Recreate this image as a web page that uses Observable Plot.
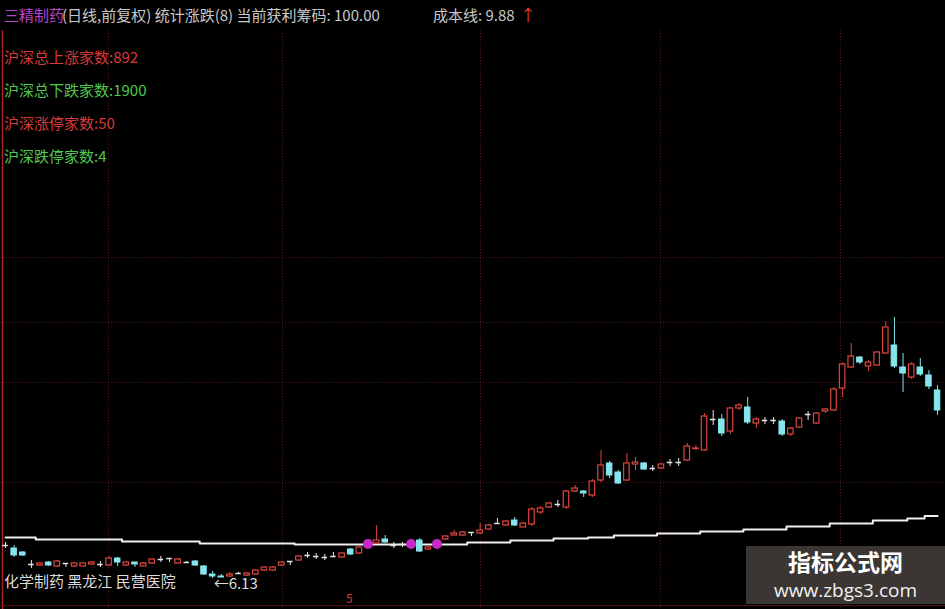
<!DOCTYPE html>
<html><head><meta charset="utf-8">
<script src="https://cdn.jsdelivr.net/npm/d3@7"></script>
<script src="https://cdn.jsdelivr.net/npm/@observablehq/plot@0.6"></script>
<style>
html,body{margin:0;padding:0;background:#000;}
#wrap{position:relative;width:945px;height:609px;overflow:hidden;background:#000;font-family:"Noto Sans CJK SC","Noto Sans",sans-serif;}
#wrap svg{position:absolute;left:0;top:0;}
.t{position:absolute;white-space:nowrap;font-size:14px;line-height:1;}
</style></head><body>
<div id="wrap"></div>
<script>
// ---- data (daily candles, price) ----
const open = [8.11,7.93,7.69,6.97,6.91,7.09,6.85,7.03,6.85,6.85,
6.97,6.97,6.91,7.33,6.91,7.09,6.85,7.03,7.27,7.33,
7.03,7.09,7.15,6.85,6.37,6.25,6.25,6.43,6.31,6.37,
6.61,6.61,6.91,7.15,7.21,7.51,7.45,7.39,7.45,7.39,
7.87,7.63,8.05,8.23,8.47,8.11,8.17,8.11,8.41,7.87,
8.05,8.47,8.71,8.71,8.89,8.83,9.07,9.43,9.31,9.61,
9.19,9.37,10.09,10.39,10.57,10.39,11.35,11.35,11.11,12.01,
13.03,12.49,12.01,12.97,13.03,12.73,12.73,13.09,13.09,13.21,
13.90,13.81,15.67,15.67,14.95,16.33,16.39,15.43,15.61,15.61,
15.55,14.77,15.19,15.97,15.43,16.15,16.21,17.53,18.79,19.39,
18.85,18.91,19.63,20.11,18.79,18.19,18.79,18.31,17.41];
const close = [8.11,7.51,7.51,6.97,7.03,6.91,7.15,7.03,7.03,7.03,
7.09,6.97,7.33,7.09,7.09,6.97,7.03,7.27,7.27,7.33,
7.27,7.09,6.91,6.37,6.25,6.19,6.37,6.43,6.43,6.61,
6.79,6.79,7.09,7.15,7.45,7.51,7.45,7.39,7.45,7.63,
7.57,7.99,8.35,8.41,8.29,8.11,8.17,8.35,7.75,7.99,
8.35,8.65,8.83,8.89,8.89,9.01,9.31,9.43,9.55,9.31,
9.43,10.27,10.33,10.63,10.57,11.35,11.53,11.23,11.95,12.91,
12.31,11.83,13.03,13.09,12.67,12.73,12.97,13.09,13.09,14.05,
13.93,15.85,15.67,14.83,16.33,16.51,15.49,15.67,15.61,15.61,
14.77,15.13,15.73,15.97,16.03,16.27,17.47,18.97,19.45,19.09,
19.09,19.69,21.19,18.85,18.43,18.97,18.37,17.65,16.21];
const high = [8.29,8.11,7.75,7.21,7.09,7.15,7.21,7.03,7.09,7.03,
7.15,7.15,7.45,7.39,7.15,7.09,7.09,7.33,7.45,7.33,
7.33,7.15,7.21,6.91,6.55,6.37,6.49,6.49,6.49,6.67,
6.85,6.85,7.15,7.15,7.51,7.69,7.63,7.57,7.69,7.69,
7.93,8.05,8.41,9.31,8.71,8.29,8.29,8.41,8.53,8.05,
8.41,8.71,9.01,8.95,8.89,9.43,9.37,9.73,9.61,9.79,
9.49,10.39,10.45,10.69,10.81,11.41,11.71,11.41,12.07,13.81,
13.15,12.61,13.63,13.39,13.09,12.91,13.03,13.27,13.33,14.23,
14.11,16.03,16.21,15.97,16.39,16.63,16.99,15.79,15.79,15.79,
15.67,15.19,15.79,16.15,16.09,16.33,17.59,19.09,20.23,19.45,
19.21,19.75,21.55,21.79,19.63,19.09,19.33,18.61,17.71];
const low = [7.93,7.39,7.45,6.73,6.85,6.85,6.79,6.79,6.79,6.85,
6.91,6.79,6.85,6.85,6.85,6.79,6.85,6.97,7.09,7.09,
6.97,7.03,6.85,6.31,6.13,6.19,6.19,6.37,6.25,6.31,
6.55,6.55,6.85,6.91,7.15,7.33,7.27,7.21,7.39,7.33,
7.51,7.57,7.99,8.17,8.23,7.93,7.99,8.05,7.69,7.81,
7.99,8.41,8.71,8.65,8.65,8.77,9.01,9.43,9.25,9.25,
9.19,9.25,9.97,10.33,10.39,10.27,11.29,10.99,10.99,11.89,
12.13,11.77,11.95,12.61,12.61,12.55,12.67,12.85,12.85,13.15,
13.81,13.75,15.31,14.65,14.77,16.21,15.37,15.13,15.37,15.37,
14.65,14.65,15.13,15.61,15.37,16.03,16.15,16.99,18.73,18.97,
18.55,18.85,19.57,18.73,17.29,18.07,18.25,17.47,15.91];
// cost line (成本线)
const costLine = [8.59,8.59,8.59,8.59,
8.47,8.47,8.47,8.47,8.47,8.47,8.47,8.47,8.47,8.47,
8.35,8.35,8.35,8.35,8.35,8.35,8.35,8.35,8.35,
8.23,8.23,8.23,8.23,8.23,8.23,8.23,8.23,8.23,8.23,8.23,
8.17,8.17,8.17,8.17,8.17,8.17,8.17,8.17,8.17,8.17,8.17,8.17,8.17,8.17,8.17,8.17,8.17,8.17,8.17,8.17,
8.29,8.29,8.29,8.29,8.29,
8.41,8.41,8.41,8.41,8.41,
8.53,8.53,8.53,8.53,
8.59,8.59,8.59,
8.71,8.71,8.71,8.71,8.71,
8.83,8.83,8.83,8.83,8.83,
8.95,8.95,8.95,8.95,8.95,
9.07,9.07,9.07,9.07,9.07,
9.25,9.25,9.25,9.25,9.25,
9.43,9.43,9.43,9.43,9.43,
9.61,9.61,9.61,9.61,
9.73,9.73,
9.88,9.88];
// magenta signal markers
const signalIdx = [42, 47, 50];
const signalVal = [8.20, 8.20, 8.20];
// lowest point label
const lowIdx = 24;
const lowVal = 6.13;
// grid positions
const gridXIdx = [11.94, 32.1, 55.04, 75.9, 96.76];
const gridYPrice = [25.39, 21.49, 17.89, 11.89];

// header & info texts
const stockName = "三精制药";
const headerRest = "(日线,前复权) 统计涨跌(8) 当前获利筹码: 100.00";
const costLabel = "成本线: 9.88";
const infoLabels = ["沪深总上涨家数:892", "沪深总下跌家数:1900", "沪深涨停家数:50", "沪深跌停家数:4"];
const infoColors = ["#d83a3a", "#4fc84f", "#d83a3a", "#4fc84f"];
const sectorText = "化学制药 黑龙江 民营医院";

// ---- build ----
const RED = "#e0453e", CYAN = "#86e6ee", WHITE = "#e6e6e6";
const candles = open.map((o, i) => ({i, open: o, close: close[i], high: high[i], low: low[i]}));
const ups = candles.filter(d => d.close > d.open);
const downs = candles.filter(d => d.close < d.open);
const dojis = candles.filter(d => d.close === d.open);
const cost = costLine.map((v, i) => ({i, v}));
const signals = signalIdx.map((i, k) => ({i, v: signalVal[k]}));
const HW = 0.32;

const chart = Plot.plot({
  width: 945, height: 609, margin: 0,
  x: {domain: [-0.58, 108.92], axis: null},
  y: {domain: [4.27, 40.81], axis: null},
  style: {background: "#000", fontFamily: "'Noto Sans CJK SC', sans-serif"},
  marks: [
    Plot.ruleY(gridYPrice, {stroke: "#5e1717", strokeDasharray: "1,2"}),
    Plot.ruleX(gridXIdx, {y1: 39.0, y2: 4.27, stroke: "#5e1717", strokeDasharray: "1,2"}),
    Plot.ruleX([-0.35], {y1: 39.0, y2: 4.27, stroke: "#a82020", strokeWidth: 1.5}),
    Plot.ruleY([4.5], {stroke: "#5a1515"}),
    Plot.line(cost, {x: "i", y: "v", curve: "step", stroke: "#f0f0f0", strokeWidth: 2}),
    Plot.ruleX(ups, {x: "i", y1: "low", y2: "high", stroke: RED}),
    Plot.ruleX(downs, {x: "i", y1: "low", y2: "high", stroke: CYAN}),
    Plot.ruleX(dojis, {x: "i", y1: "low", y2: "high", stroke: WHITE}),
    Plot.rect(ups, {x1: d => d.i - HW, x2: d => d.i + HW, y1: "open", y2: "close", fill: "#000", stroke: RED, strokeWidth: 1.2}),
    Plot.rect(downs, {x1: d => d.i - HW, x2: d => d.i + HW, y1: "open", y2: "close", fill: CYAN, stroke: CYAN}),
    Plot.ruleY(dojis, {y: "open", x1: d => d.i - HW, x2: d => d.i + HW, stroke: WHITE, strokeWidth: 1.5}),
    Plot.dot(signals, {x: "i", y: "v", r: 5, fill: "#c828c8"}),
    Plot.text([{i: lowIdx, v: lowVal}], {x: "i", y: "v", text: d => "←" + d.v.toFixed(2), textAnchor: "start", dx: 1, dy: 6, fill: "#dcdcdc", fontSize: 15})
  ]
});
const wrap = document.getElementById("wrap");
wrap.appendChild(chart);

function addText(txt, left, top, color, size, extra) {
  const d = document.createElement("div");
  d.className = "t";
  d.textContent = txt;
  d.style.left = left + "px"; d.style.top = top + "px";
  d.style.color = color; d.style.fontSize = size + "px";
  if (extra) Object.assign(d.style, extra);
  wrap.appendChild(d);
  return d;
}
addText(stockName, 4, 7, "#b844c8", 15);
addText(headerRest, 62, 7, "#c8c8c8", 15);
addText(costLabel, 433, 7, "#c8c8c8", 15);
addText("↑", 520, 6, "#e03a3a", 16);
infoLabels.forEach((s, k) => addText(s, 4, 49 + k * 33, infoColors[k], 15));
addText(sectorText, 4, 573, "#dcdcdc", 15);
addText("5", 346, 592, "#d83a3a", 12);

const wm = document.createElement("div");
Object.assign(wm.style, {position: "absolute", left: "746px", top: "546px", width: "199px", height: "58px", background: "#3b3634"});
wrap.appendChild(wm);
const w1 = document.createElement("div");
w1.textContent = "指标公式网";
Object.assign(w1.style, {position: "absolute", left: "0", width: "199px", top: "3px", textAlign: "center", color: "#fff", fontSize: "23px", fontWeight: "bold", lineHeight: "25px"});
wm.appendChild(w1);
const w2 = document.createElement("div");
w2.textContent = "www.zbgs3.com";
Object.assign(w2.style, {position: "absolute", left: "0", width: "199px", top: "34px", textAlign: "center", color: "#f0f0f0", fontSize: "19px", lineHeight: "21px", fontFamily: "'Open Sans', sans-serif"});
wm.appendChild(w2);
</script>
</body></html>
